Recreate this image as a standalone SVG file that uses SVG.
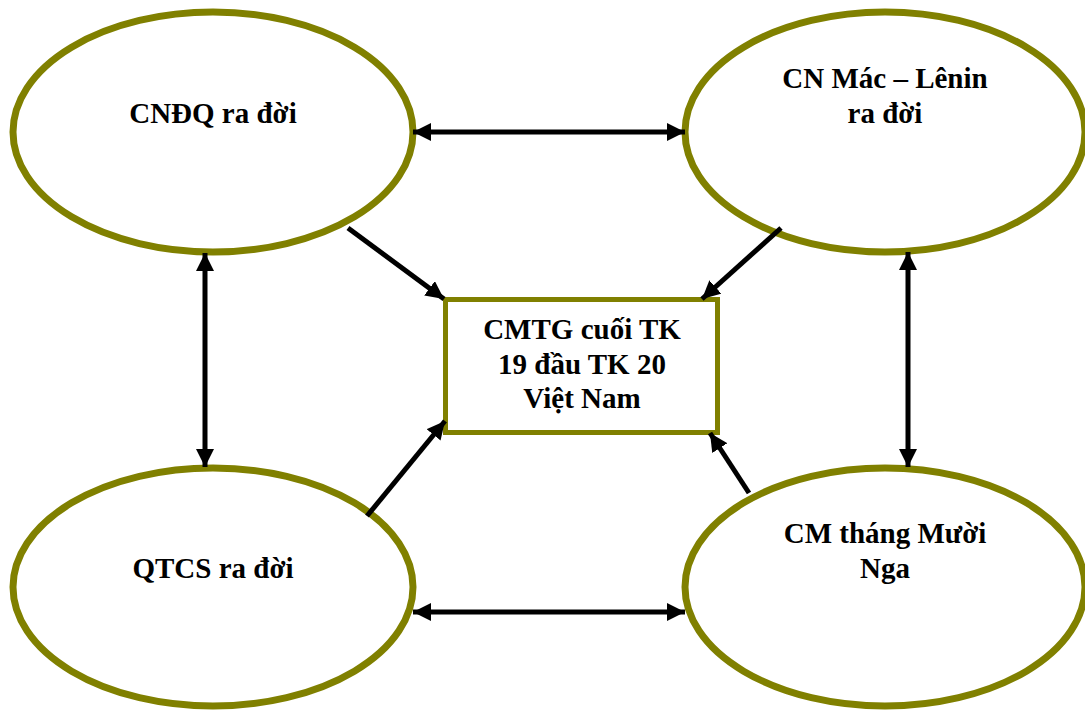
<svg xmlns="http://www.w3.org/2000/svg" width="1085" height="712" viewBox="0 0 1085 712">
<style>
.node{fill:#fff;stroke:#808000;stroke-width:7}
.box{fill:#fff;stroke:#808000;stroke-width:5}
.t{font-family:"Liberation Serif","Times New Roman",serif;font-weight:bold;font-size:29px;fill:#000;text-anchor:middle}
.c{stroke:#000;stroke-width:5;fill:none}
</style>
<defs>
<marker id="ah" markerUnits="userSpaceOnUse" markerWidth="20" markerHeight="18" refX="18" refY="9" orient="auto-start-reverse">
<path d="M0,0 L18,9 L0,18 Z" fill="#000"/>
</marker>
</defs>
<rect width="1085" height="712" fill="#fff"/>
<g id="n1"><ellipse class="node" cx="213" cy="132" rx="200" ry="120"/><text class="t" x="213" y="123">CNĐQ ra đời</text></g>
<g id="n2"><ellipse class="node" cx="885" cy="132" rx="200" ry="120"/><text class="t" x="885" y="88">CN Mác – Lênin</text><text class="t" x="885" y="123">ra đời</text></g>
<g id="n3"><ellipse class="node" cx="213" cy="587" rx="200" ry="119"/><text class="t" x="213" y="578">QTCS ra đời</text></g>
<g id="n4"><ellipse class="node" cx="885" cy="587" rx="200" ry="119"/><text class="t" x="885" y="543">CM tháng Mười</text><text class="t" x="885" y="578">Nga</text></g>
<g id="center"><rect class="box" x="445.5" y="299.5" width="272" height="133"/><text class="t" x="582" y="339">CMTG cuối TK</text><text class="t" x="582" y="374">19 đầu TK 20</text><text class="t" x="582" y="408">Việt Nam</text></g>
<g id="connectors">
<line class="c" x1="413" y1="132" x2="685" y2="132" marker-start="url(#ah)" marker-end="url(#ah)"/>
<line class="c" x1="413" y1="612" x2="685" y2="612" marker-start="url(#ah)" marker-end="url(#ah)"/>
<line class="c" x1="205" y1="253" x2="205" y2="467" marker-start="url(#ah)" marker-end="url(#ah)"/>
<line class="c" x1="908" y1="252" x2="908" y2="467" marker-start="url(#ah)" marker-end="url(#ah)"/>
<line class="c" x1="348" y1="228" x2="444" y2="299" marker-end="url(#ah)"/>
<line class="c" x1="781" y1="228" x2="702" y2="299" marker-end="url(#ah)"/>
<line class="c" x1="367" y1="516" x2="445" y2="421" marker-end="url(#ah)"/>
<line class="c" x1="749" y1="493" x2="710" y2="433" marker-end="url(#ah)"/>
</g>
</svg>
